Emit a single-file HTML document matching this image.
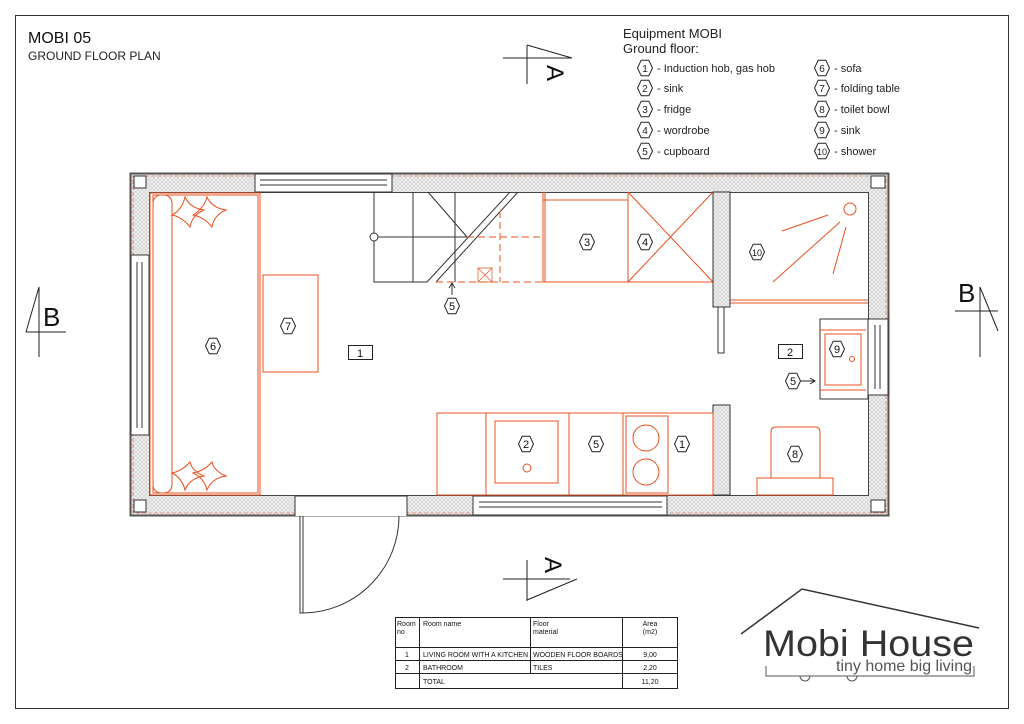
<!DOCTYPE html>
<html><head><meta charset="utf-8"><style>
html,body{margin:0;padding:0;background:#fff}
svg{display:block;font-family:"Liberation Sans",sans-serif}
</style></head><body>
<svg width="1024" height="724" viewBox="0 0 1024 724" xmlns="http://www.w3.org/2000/svg">
<defs>
<pattern id="h" width="4" height="4" patternUnits="userSpaceOnUse">
<rect width="4" height="4" fill="#f2f2f2"/><path d="M0 0L4 4M4 0L0 4" stroke="#c8c8c8" stroke-width="0.6"/>
</pattern>
<g id="hex"><polygon points="-7.5,0 -3.8,-7.8 3.8,-7.8 7.5,0 3.8,7.8 -3.8,7.8" fill="#fff" stroke="#222" stroke-width="1"/></g>
</defs>
<rect x="15.5" y="15.5" width="993" height="693" fill="none" stroke="#333" stroke-width="1"/>
<text x="28" y="43" font-size="16" fill="#111">MOBI 05</text>
<text x="28" y="60" font-size="12" fill="#222">GROUND FLOOR PLAN</text>

<!-- legend -->
<text x="623" y="38" font-size="13" fill="#222">Equipment MOBI</text>
<text x="623" y="53" font-size="13" fill="#222">Ground floor:</text>
<g font-size="11" fill="#222">
<g transform="translate(645,68)"><use href="#hex"/><text x="0" y="4" text-anchor="middle" font-size="10">1</text><text x="12" y="4">- Induction hob, gas hob</text></g>
<g transform="translate(645,88)"><use href="#hex"/><text x="0" y="4" text-anchor="middle" font-size="10">2</text><text x="12" y="4">- sink</text></g>
<g transform="translate(645,109)"><use href="#hex"/><text x="0" y="4" text-anchor="middle" font-size="10">3</text><text x="12" y="4">- fridge</text></g>
<g transform="translate(645,130)"><use href="#hex"/><text x="0" y="4" text-anchor="middle" font-size="10">4</text><text x="12" y="4">- wordrobe</text></g>
<g transform="translate(645,151)"><use href="#hex"/><text x="0" y="4" text-anchor="middle" font-size="10">5</text><text x="12" y="4">- cupboard</text></g>
<g transform="translate(822,68)"><use href="#hex"/><text x="0" y="4" text-anchor="middle" font-size="10">6</text><text x="12" y="4">- sofa</text></g>
<g transform="translate(822,88)"><use href="#hex"/><text x="0" y="4" text-anchor="middle" font-size="10">7</text><text x="12" y="4">- folding table</text></g>
<g transform="translate(822,109)"><use href="#hex"/><text x="0" y="4" text-anchor="middle" font-size="10">8</text><text x="12" y="4">- toilet bowl</text></g>
<g transform="translate(822,130)"><use href="#hex"/><text x="0" y="4" text-anchor="middle" font-size="10">9</text><text x="12" y="4">- sink</text></g>
<g transform="translate(822,151)"><use href="#hex"/><text x="0" y="4" text-anchor="middle" font-size="9">10</text><text x="12" y="4">- shower</text></g>
</g>

<!-- section marks -->
<g stroke="#222" stroke-width="1" fill="none">
<path d="M503 58H572M527 45V84M527 45L572 58"/>
<path d="M503 579H570M527 560V601M527 600L577 579"/>
<path d="M26 332H66M39 287V357M26 332L39 287"/>
<path d="M955 311H998M980 287V357M998 331L980 287"/>
</g>
<text transform="translate(547,73) rotate(90)" font-size="24" fill="#111" text-anchor="middle">A</text>
<text transform="translate(545,565) rotate(90)" font-size="24" fill="#111" text-anchor="middle">A</text>
<text x="43" y="326" font-size="26" fill="#111">B</text>
<text x="958" y="302" font-size="26" fill="#111">B</text>

<!-- walls -->
<path fill-rule="evenodd" fill="url(#h)" stroke="#444" d="M130.5 173.5H888.5V515.5H130.5ZM149.5 192.5H868.5V495.5H149.5Z"/>
<rect x="130.5" y="173.5" width="758" height="342" fill="none" stroke="#555" stroke-width="2"/>
<rect x="133" y="176" width="753" height="337" fill="none" stroke="#e53" stroke-width="0.6" stroke-dasharray="4 2"/>
<rect x="255" y="174" width="137" height="18" fill="#fff" stroke="#333"/>
<path d="M260 180H387M260 185H387" stroke="#333"/>
<rect x="131" y="255" width="18" height="180" fill="#fff" stroke="#333"/>
<path d="M137 262V428M142 262V428" stroke="#333"/>
<rect x="868" y="319" width="20" height="76" fill="#fff" stroke="#333"/>
<path d="M875 325V389M880 325V389" stroke="#333"/>
<rect x="473" y="496" width="194" height="19" fill="#fff" stroke="#333"/>
<path d="M479 502H662M479 507H662" stroke="#333"/>
<rect x="295" y="496" width="112" height="20" fill="#fff" stroke="none"/>
<path d="M295 496V516M407 496V516M295 496H407" stroke="#333"/>
<path d="M300 516V613H303V516" fill="none" stroke="#333"/>
<path d="M303 613A97 97 0 0 0 399 516" fill="none" stroke="#333"/>
<g stroke="#333" fill="#fff"><rect x="134" y="176" width="12" height="12"/><rect x="134" y="500" width="12" height="12"/><rect x="871" y="176" width="14" height="12"/><rect x="871" y="500" width="14" height="12"/></g>

<!-- sofa -->
<g stroke="#e8501f" fill="none" stroke-width="1">
<rect x="150" y="193" width="110" height="302"/>
<rect x="153" y="195" width="105" height="298"/>
<rect x="153" y="195" width="19" height="298" rx="8"/>
<path d="M172 215Q182 210 185 197Q190 208 204 210Q192 215 190 227Q182 217 172 215Z"/>
<path d="M193 215Q204 208 207 197Q212 208 226 210Q214 215 212 227Q204 217 193 215Z"/>
<path d="M172 473Q182 478 185 490Q190 478 204 476Q192 471 190 462Q182 471 172 473Z"/>
<path d="M193 473Q204 478 207 490Q212 478 226 476Q214 471 212 462Q204 471 193 473Z"/>
<rect x="263" y="275" width="55" height="97"/>
</g>

<!-- stairs -->
<g stroke="#333" fill="none" stroke-width="1">
<path d="M374 192V282H427M413 192V282M374 237H467M428 192L467 237M455 192V282"/>
<path d="M427 282L510 192M436 282L518 192"/>
<circle cx="374" cy="237" r="4" fill="#fff"/>
<path d="M452 295V284M449 288L452 283L455 288"/>
</g>
<g stroke="#e8501f" fill="none" stroke-dasharray="7 4" stroke-width="1">
<path d="M436 282H543M467 237H543M500 211V282"/>
</g>
<path d="M478 268h14v14h-14zM478 268l14 14M492 268l-14 14" stroke="#e8501f" fill="none" stroke-width="0.7"/>

<!-- fridge & wardrobe -->
<g stroke="#e8501f" fill="none" stroke-width="1">
<path d="M543 192V282H713M545 192V282M543 200H628M628 192V282M628 192L713 282M713 192L628 282"/>
<path d="M730 192V300H868M730 303H868"/>
<circle cx="850" cy="209" r="6"/>
<path d="M782 231L828 215M773 282L840 222M833 274L846 227"/>
</g>
<rect x="713" y="192" width="17" height="115" fill="url(#h)" stroke="#333"/>
<rect x="718" y="307" width="6" height="46" fill="#fff" stroke="#333"/>
<rect x="713" y="405" width="17" height="90" fill="url(#h)" stroke="#333"/>

<rect x="820" y="319" width="48" height="80" fill="#fff" stroke="#333"/>
<path d="M820 330H866M820 390H866" stroke="#e8501f"/>
<rect x="825" y="334" width="36" height="51" fill="none" stroke="#e8501f"/>
<circle cx="852" cy="359" r="2.5" fill="none" stroke="#e8501f"/>

<!-- kitchen -->
<g stroke="#e8501f" fill="none" stroke-width="1">
<rect x="437" y="413" width="276" height="82"/>
<path d="M486 413V495M569 413V495M623 413V495"/>
<rect x="495" y="421" width="63" height="62"/>
<circle cx="527" cy="468" r="4"/>
<rect x="626" y="416" width="42" height="77"/>
<circle cx="646" cy="438" r="13"/>
<circle cx="646" cy="472" r="13"/>
<rect x="757" y="478" width="76" height="17"/>
<path d="M771 478V432Q771 427 776 427H815Q820 427 820 432V478"/>
</g>

<!-- labels -->
<g font-size="11" fill="#111" text-anchor="middle">
<g transform="translate(213,346)"><use href="#hex"/><text y="4">6</text></g>
<g transform="translate(288,326)"><use href="#hex"/><text y="4">7</text></g>
<g transform="translate(452,306)"><use href="#hex"/><text y="4">5</text></g>
<g transform="translate(587,242)"><use href="#hex"/><text y="4">3</text></g>
<g transform="translate(645,242)"><use href="#hex"/><text y="4">4</text></g>
<g transform="translate(757,252)"><use href="#hex"/><text y="4" font-size="9">10</text></g>
<g transform="translate(837,349)"><use href="#hex"/><text y="4">9</text></g>
<g transform="translate(793,381)"><use href="#hex"/><text y="4">5</text></g>
<g transform="translate(526,444)"><use href="#hex"/><text y="4">2</text></g>
<g transform="translate(596,444)"><use href="#hex"/><text y="4">5</text></g>
<g transform="translate(682,444)"><use href="#hex"/><text y="4">1</text></g>
<g transform="translate(795,454)"><use href="#hex"/><text y="4">8</text></g>
<rect x="348.5" y="345.5" width="24" height="14" fill="#fff" stroke="#222"/><text x="360" y="357">1</text>
<rect x="778.5" y="344.5" width="24" height="14" fill="#fff" stroke="#222"/><text x="790" y="356">2</text>
</g>
<path d="M801 381H814M810 378L815 381L810 384" stroke="#222" fill="none"/>

<!-- table -->
<g stroke="#222" fill="none" stroke-width="1">
<rect x="395.5" y="617.5" width="282" height="71"/>
<path d="M419.5 617V688M530.5 617V647M530.5 647V673M622.5 617V688M395 647.5H677M395 660.5H677M395 673.5H677"/>
</g>
<g font-size="7" fill="#111">
<text x="397" y="626">Room</text><text x="397" y="634">no</text>
<text x="423" y="626">Room name</text>
<text x="533" y="626">Floor</text><text x="533" y="634">material</text>
<text x="650" y="626" text-anchor="middle">Area</text><text x="650" y="634" text-anchor="middle">(m2)</text>
<text x="407" y="657" text-anchor="middle">1</text><text x="423" y="657">LIVING ROOM WITH A KITCHEN</text><text x="533" y="657">WOODEN FLOOR BOARDS</text><text x="650" y="657" text-anchor="middle">9,00</text>
<text x="407" y="670" text-anchor="middle">2</text><text x="423" y="670">BATHROOM</text><text x="533" y="670">TILES</text><text x="650" y="670" text-anchor="middle">2,20</text>
<text x="423" y="684">TOTAL</text><text x="650" y="684" text-anchor="middle">11,20</text>
</g>

<!-- logo -->
<path d="M741 634L802 589L979 628" stroke="#333" fill="none" stroke-width="1.5"/>
<text x="763" y="656" font-size="37" fill="#333" textLength="211" lengthAdjust="spacingAndGlyphs">Mobi House</text>
<text x="836" y="671" font-size="16" fill="#555" textLength="136" lengthAdjust="spacingAndGlyphs">tiny home big living</text>
<path d="M766 666V676H974V666" stroke="#555" fill="none"/>
<path d="M800 676A5 5 0 0 0 810 676M847 676A5 5 0 0 0 857 676" stroke="#555" fill="none"/>
</svg>
</body></html>
